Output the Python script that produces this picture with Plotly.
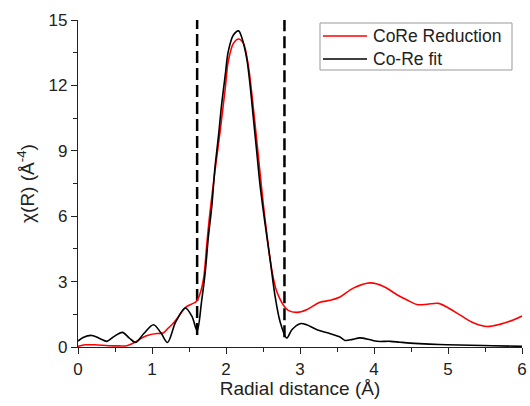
import plotly.graph_objects as go

red_x = [0, 0.1, 0.23, 0.41, 0.55, 0.66, 0.75, 0.86, 0.97, 1.08, 1.15, 1.22, 1.29, 1.36,
         1.45, 1.54, 1.6, 1.65, 1.70, 1.74, 1.78, 1.85, 1.92, 1.99, 2.03, 2.10, 2.17,
         2.235, 2.30, 2.37, 2.44, 2.505, 2.57, 2.62, 2.68, 2.73, 2.78, 2.84, 2.96, 3.09,
         3.27, 3.41, 3.54, 3.72, 3.95, 4.13, 4.31, 4.44, 4.58, 4.72, 4.87, 5.0, 5.17,
         5.35, 5.53, 5.71, 5.89, 6.0]
red_y = [0.03, 0.1, 0.1, 0.06, 0.05, 0.06, 0.18, 0.41, 0.56, 0.62, 0.64, 0.87, 1.1, 1.4,
         1.81, 1.98, 2.09, 2.45, 3.2, 4.69, 6.06, 8.05, 9.88, 11.87, 13.09, 13.93, 14.13,
         13.93, 12.94, 10.95, 8.66, 6.52, 4.69, 3.5, 2.6, 2.2, 1.9, 1.68, 1.59, 1.71,
         2.05, 2.14, 2.29, 2.7, 2.94, 2.78, 2.4, 2.17, 1.95, 1.96, 2.0, 1.8, 1.45,
         1.1, 0.94, 1.05, 1.25, 1.42]

# Co-Re fit data
blk_x = [0, 0.07, 0.185, 0.30, 0.39, 0.49, 0.6, 0.69, 0.78, 0.89, 1.02, 1.12, 1.21, 1.32,
         1.45, 1.54, 1.61, 1.67, 1.72, 1.76, 1.81, 1.85, 1.90, 1.94, 1.99, 2.03, 2.10,
         2.17, 2.21, 2.28, 2.325, 2.37, 2.415, 2.46, 2.53, 2.60, 2.66, 2.73, 2.82, 2.89,
         3.0, 3.09, 3.23, 3.41, 3.54, 3.61, 3.71, 3.81, 3.95, 4.04, 4.22, 4.35, 4.49,
         4.75, 4.99, 5.3, 5.6, 6.0]
blk_y = [0.27, 0.44, 0.53, 0.38, 0.26, 0.49, 0.67, 0.42, 0.21, 0.62, 1.02, 0.65, 0.21, 1.15,
         1.79, 1.4, 0.75, 2.09, 3.46, 4.99, 6.52, 8.2, 9.73, 11.1, 12.48, 13.55, 14.31,
         14.5, 14.23, 13.24, 12.02, 10.5, 8.97, 7.44, 5.6, 3.92, 2.40, 1.17, 0.41, 0.79,
         1.07, 1.02, 0.79, 0.61, 0.46, 0.30, 0.35, 0.42, 0.33, 0.26, 0.26, 0.22, 0.18,
         0.13, 0.1, 0.08, 0.06, 0.03]

# Fit window boundaries (dashed lines)
win_x = [1.61, 2.79]
win_bottom = [0.55, 0.45]
win_top = 15

x_ticks = [0, 1, 2, 3, 4, 5, 6]
y_ticks = [0, 3, 6, 9, 12, 15]

series_names = ["CoRe Reduction", "Co-Re fit"]
series_colors = ["#ff0000", "#000000"]

FONT = "Liberation Sans, Arial"
W, H = 530, 406
ML, MR, MT, MB = 78, 8, 20, 59
PW, PH = W - ML - MR, H - MT - MB


def px_x(p):
    return (p - ML) / PW


def px_y(p):
    return (H - MB - p) / PH


fig = go.Figure()
for wx, wb in zip(win_x, win_bottom):
    fig.add_trace(go.Scatter(x=[wx, wx], y=[wb, win_top], mode="lines",
                             line=dict(color="black", width=2.5, dash="12px,5px"),
                             showlegend=False, hoverinfo="skip"))
for xs, ys, nm, col in [(red_x, red_y, series_names[0], series_colors[0]),
                        (blk_x, blk_y, series_names[1], series_colors[1])]:
    fig.add_trace(go.Scatter(x=xs, y=ys, mode="lines", name=nm, showlegend=False,
                             line=dict(color=col, width=1.6, shape="spline", smoothing=0.9)))

# legend drawn manually to match the reference box
shapes = [dict(type="rect", xref="paper", yref="paper",
               x0=px_x(320), x1=px_x(512), y0=px_y(70), y1=px_y(23),
               line=dict(color="#999", width=1), fillcolor="white", layer="above")]
annotations = []
for i, (nm, col) in enumerate(zip(series_names, series_colors)):
    cy = 36 + 23 * i
    shapes.append(dict(type="line", xref="paper", yref="paper",
                       x0=px_x(323), x1=px_x(367), y0=px_y(cy), y1=px_y(cy),
                       line=dict(color=col, width=1.6), layer="above"))
    annotations.append(dict(xref="paper", yref="paper", x=px_x(371), y=px_y(cy),
                            xanchor="left", yanchor="middle", showarrow=False, text=nm,
                            font=dict(family=FONT, size=17.5, color="#222")))

axis_common = dict(showline=True, linecolor="#222", linewidth=1.2, ticks="outside",
                   ticklen=6, tickwidth=1.2, tickcolor="#222", showgrid=False,
                   zeroline=False, mirror=False, automargin=False,
                   tickfont=dict(family=FONT, size=17, color="#222"))

fig.update_layout(
    width=W, height=H,
    margin=dict(l=ML, r=MR, t=MT, b=MB),
    paper_bgcolor="white", plot_bgcolor="white",
    showlegend=False,
    shapes=shapes,
    annotations=annotations,
    xaxis=dict(range=[0, 6], tickvals=x_ticks,
               minor=dict(dtick=0.5, ticks="outside", ticklen=4, tickwidth=1.2, tickcolor="#222"),
               title=dict(text="Radial distance (Å)", standoff=4,
                          font=dict(family=FONT, size=19, color="#222")),
               **axis_common),
    yaxis=dict(range=[0, 15], tickvals=y_ticks,
               minor=dict(dtick=1.5, ticks="outside", ticklen=4, tickwidth=1.2, tickcolor="#222"),
               title=dict(text="χ(R) (Å<sup>-4</sup>)", standoff=8,
                          font=dict(family=FONT, size=19, color="#222")),
               **axis_common),
)

fig.write_html("out.html")
